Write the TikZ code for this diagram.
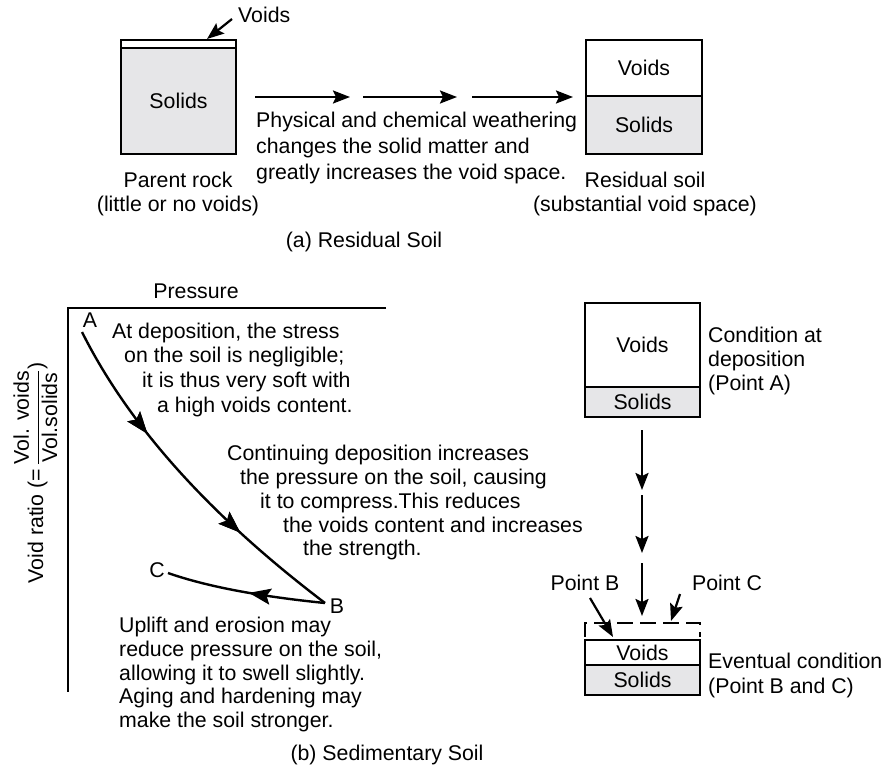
\documentclass[tikz,border=0pt]{standalone}
\usepackage{fontspec}
\setmainfont{Liberation Sans}
\usetikzlibrary{arrows.meta,decorations.markings}
\definecolor{solidgray}{RGB}{230,230,232}
\newcommand\fsz{\fontsize{21.3}{24}\selectfont}
\begin{document}
\begin{tikzpicture}[x=1pt,y=-1pt,
 txt/.style={font=\fsz, inner sep=0pt, text height=15pt, text depth=4.5pt},
 cell/.style={draw, line width=2.8pt, rectangle, inner sep=0pt, font=\fsz},
 sol/.style={cell, fill=solidgray},
 arr/.style={line width=2.2pt, -{Stealth[length=17pt,width=13pt,inset=3pt]}},
 ax/.style={line width=2.7pt},
 crv/.style={line width=2.4pt},
 midarrow/.style={postaction={decorate}, decoration={markings, mark=at position #1 with {\arrow{Stealth[length=22pt,width=16pt,inset=4pt]}}}},
]
\useasboundingbox (0,0) rectangle (886,774);

% ---------- (a) Residual soil ----------
\node[cell, minimum width=115pt, minimum height=8pt] (pv) at (178.5,44) {};
\node[sol, minimum width=115pt, minimum height=106pt] (ps) at (178.5,101) {Solids};
\node[txt, anchor=west] (vl) at (238,17) {Voids};
\coordinate (vls) at (232,19);
\coordinate (vlt) at (207,39);
\draw[arr] (vls) -- (vlt);

\node[cell, minimum width=116pt, minimum height=56pt] (rv) at (644,68) {Voids};
\node[sol, minimum width=116pt, minimum height=58pt] (rs) at (644,125) {Solids};

\coordinate (h1s) at (255,97); \coordinate (h1e) at (350,97);
\coordinate (h2s) at (363,97); \coordinate (h2e) at (457,97);
\coordinate (h3s) at (472,97); \coordinate (h3e) at (573,97);
\draw[arr] (h1s) -- (h1e);
\draw[arr] (h2s) -- (h2e);
\draw[arr] (h3s) -- (h3e);

\node[txt, anchor=west] (w1) at (256,122) {Physical and chemical weathering};
\node[txt, anchor=west] (w2) at (256,148) {changes the solid matter and};
\node[txt, anchor=west] (w3) at (256,174) {greatly increases the void space.};

\node[txt] (pr1) at (178,182) {Parent rock};
\node[txt] (pr2) at (178,206) {(little or no voids)};
\node[txt] (rs1) at (645,182) {Residual soil};
\node[txt] (rs2) at (645,206) {(substantial void space)};
\node[txt] (capa) at (364,242) {(a) Residual Soil};

% ---------- (b) Sedimentary soil ----------
\node[txt] (pres) at (196,293) {Pressure};
\coordinate (axr) at (386,308);
\coordinate (axo) at (68,308);
\coordinate (axb) at (68,692);
\draw[ax] (axr) -- (axo) -- (axb);
\node[font=\fsz, rotate=90, anchor=base, inner sep=0pt] (ylab) at (43,473)
  {Void ratio (=\,$\displaystyle\frac{\mbox{Vol. voids}}{\mbox{Vol.solids}}$)};

\coordinate (A) at (82,332);
\coordinate (B) at (325,603);
\coordinate (C) at (168,573);
\draw[crv, midarrow=0.33, midarrow=0.70] (A) .. controls (128.8,425.6) and (209.8,515.6) .. (B);
\draw[crv, midarrow=0.48] (B) .. controls (258.3,596.3) and (206,586.3) .. (C);
\node[txt] (la) at (90,322) {A};
\node[txt] (lb) at (337,608) {B};
\node[txt] (lc) at (157,572) {C};

\node[txt, anchor=west] (d1) at (112,333) {At deposition, the stress};
\node[txt, anchor=west] (d2) at (124,357) {on the soil is negligible;};
\node[txt, anchor=west] (d3) at (142,382) {it is thus very soft with};
\node[txt, anchor=west] (d4) at (157,407) {a high voids content.};

\node[txt, anchor=west] (c1) at (227,455) {Continuing deposition increases};
\node[txt, anchor=west] (c2) at (240,479) {the pressure on the soil, causing};
\node[txt, anchor=west] (c3) at (260,503) {it to compress.This reduces};
\node[txt, anchor=west] (c4) at (283,527) {the voids content and increases};
\node[txt, anchor=west] (c5) at (303,550) {the strength.};

\node[txt, anchor=west] (u1) at (119,627) {Uplift and erosion may};
\node[txt, anchor=west] (u2) at (119,651) {reduce pressure on the soil,};
\node[txt, anchor=west] (u3) at (119,675) {allowing it to swell slightly.};
\node[txt, anchor=west] (u4) at (119,698) {Aging and hardening may};
\node[txt, anchor=west] (u5) at (119,722) {make the soil stronger.};

\node[txt] (capb) at (387,755) {(b) Sedimentary Soil};

% right column
\node[cell, minimum width=115pt, minimum height=84pt] (tv) at (642.5,345) {Voids};
\node[sol, minimum width=115pt, minimum height=30pt] (ts) at (642.5,402) {Solids};
\node[txt, anchor=west] (ca1) at (708,337) {Condition at};
\node[txt, anchor=west] (ca2) at (708,361) {deposition};
\node[txt, anchor=west] (ca3) at (708,385) {(Point A)};

\coordinate (v1s) at (642,430); \coordinate (v1e) at (642,490);
\coordinate (v2s) at (642,495); \coordinate (v2e) at (642,553);
\coordinate (v3s) at (642,563); \coordinate (v3e) at (642,616);
\draw[arr] (v1s) -- (v1e);
\draw[arr] (v2s) -- (v2e);
\draw[arr] (v3s) -- (v3e);

\node[cell, minimum width=115pt, minimum height=25pt] (lv) at (642.5,652.5) {Voids};
\node[sol, minimum width=115pt, minimum height=30pt] (ls) at (642.5,680) {Solids};
\coordinate (dbl) at (585,637); \coordinate (dtl) at (585,623);
\coordinate (dtr) at (700,623); \coordinate (dbr) at (700,637);
\draw[line width=2.5pt, dash pattern=on 16pt off 7pt] (dbl) -- (dtl) -- (dtr) -- (dbr);

\node[txt] (pb) at (585,585) {Point B};
\node[txt] (pc) at (727,585) {Point C};
\coordinate (pbs) at (590,598); \coordinate (pbe) at (613,637);
\coordinate (pcs) at (680,594); \coordinate (pce) at (671,621);
\draw[arr] (pbs) -- (pbe);
\draw[arr] (pcs) -- (pce);

\node[txt, anchor=west] (ev1) at (708,663) {Eventual condition};
\node[txt, anchor=west] (ev2) at (708,688) {(Point B and C)};
\end{tikzpicture}
\end{document}
